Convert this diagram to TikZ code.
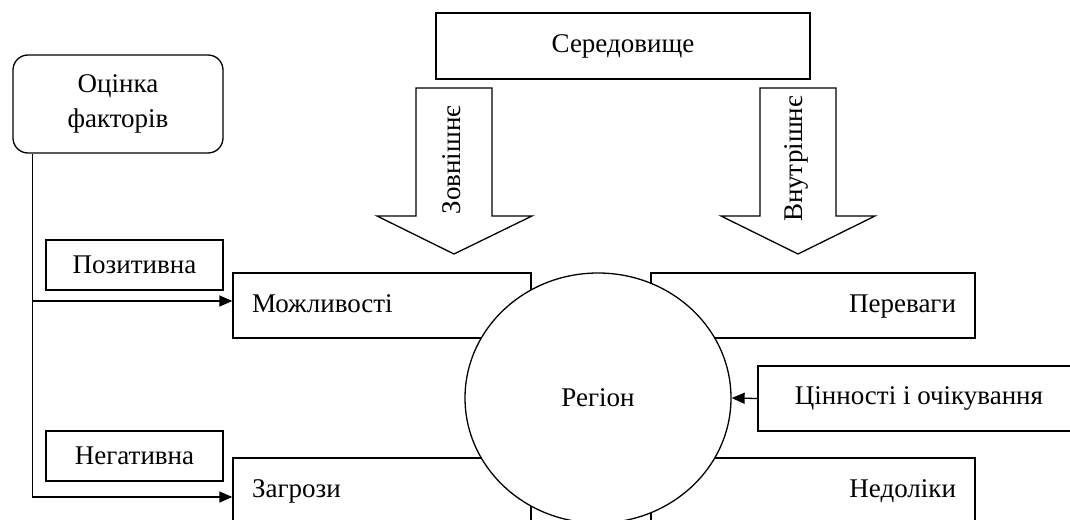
\documentclass[tikz,border=0pt]{standalone}
\usepackage{fontspec}
\setmainfont{Liberation Serif}
\usetikzlibrary{shapes.geometric,arrows.meta,positioning}

\tikzset{
  box/.style={draw,line width=0.65pt,inner sep=0pt,minimum height=32.5pt},
  lbox/.style={box,text width=#1,inner xsep=9.5pt,align=left,text height=9.5pt,text depth=3pt},
  rbox/.style={box,text width=#1,inner xsep=9.5pt,align=right,text height=9.5pt,text depth=3pt},
  arr/.style={line width=0.65pt,-{Triangle[length=6.5pt,width=5.5pt]}},
  blockarr/.style={draw,line width=0.65pt,fill=white}
}

\begin{document}
\begin{tikzpicture}[x=0.5pt,y=-0.5pt,font=\fontsize{13.5}{16.5}\selectfont]
\useasboundingbox (0,0) rectangle (1070,519);
\clip (0,0) rectangle (1070,519);

%Shape: Rectangle [Середовище]
\node[box,minimum width=187pt,minimum height=33pt] (env) at (623,46) {Середовище};

%Shape: Rounded Rectangle [Оцінка факторів]
\node[box,rounded corners=7.5pt,minimum width=105pt,minimum height=49pt,align=center] (est) at (118,104) {Оцінка\\[1pt]факторів};

%Shape: Block arrows
\draw[blockarr] (416,88) -- (492,88) -- (492,216) -- (532,216) -- (454,254) -- (377,216) -- (416,216) -- cycle;
\draw[blockarr] (760,88) -- (836,88) -- (836,216) -- (875,216) -- (798,254) -- (721,216) -- (760,216) -- cycle;
% Text Node
\node[rotate=90] (ext) at (452,160) {Зовнішнє};
\node[rotate=90] (int) at (796,159) {Внутрішнє};

%Shape: Rectangle [labels]
\node[box,minimum width=88.5pt,minimum height=25pt] (pos) at (134.5,265) {Позитивна};
\node[box,minimum width=88.5pt,minimum height=25pt] (neg) at (134.5,456) {Негативна};

%Shape: Rectangle [SWOT]
\node[lbox=130pt] (opp) at (382,305.5) {Можливості};
\node[lbox=130pt] (thr) at (382,490.5) {Загрози};
\node[rbox=143pt] (str) at (813,305.5) {Переваги};
\node[rbox=143pt] (wk) at (813,490.5) {Недоліки};
\node[box,minimum width=161pt,align=center] (val) at (919,398.5) {Цінності і очікування};

%Shape: Ellipse [Регіон]
\node[ellipse,draw,line width=0.65pt,fill=white,inner sep=0pt,minimum width=133pt,minimum height=125pt] (reg) at (598,398) {Регіон};

%Straight Lines
\coordinate (trunk) at ([xshift=10pt]est.south west);
\draw[arr] (trunk) |- ([yshift=-3.25pt]thr.west);
\draw[arr] ([yshift=2.25pt]opp.west -| trunk) -- ([yshift=2.25pt]opp.west);
\draw[arr] (val.west) -- (reg.east);

\end{tikzpicture}
\end{document}
